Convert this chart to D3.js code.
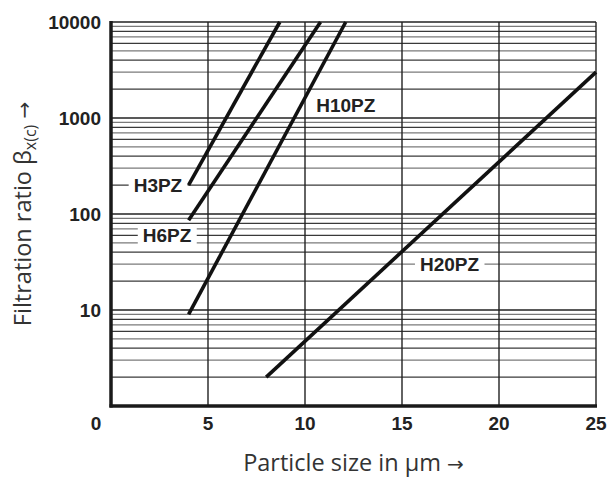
<!DOCTYPE html>
<html><head><meta charset="utf-8">
<script src="https://cdn.jsdelivr.net/npm/d3@7"></script>
<style>body{margin:0;background:#fff}svg{display:block}</style>
</head><body>
<svg id="c" width="614" height="479"></svg>
<script>
// Data
const seriesNames = ["H3PZ", "H6PZ", "H10PZ", "H20PZ"];
const seriesX = [[4, 8.7], [4, 10.8], [4, 12.1], [8, 25]];
const seriesY = [[200, 10000], [86, 10000], [9, 10000], [2, 3000]];
const labelX = [2.42, 2.89, 12.1, 17.45];
const labelY = [200, 60, 1370, 30];
const xTicks = [0, 5, 10, 15, 20, 25];
const yTicks = [10, 100, 1000, 10000];
const xTitle = "Particle size in µm";

const svg = d3.select("#c");
const m = {l:111, r:18, t:22, b:73};
const W = 614, H = 479;
const x = d3.scaleLinear().domain([0,25]).range([m.l, W-m.r]);
const y = d3.scaleLog().domain([1,10000]).range([H-m.b, m.t]);

// minor gridlines
const minors = [];
for (let d=1; d<10000; d*=10) for (let k=2; k<=9; k++) minors.push(d*k);
const g = svg.append("g");
g.selectAll("line.mn").data(minors).enter().append("line")
  .attr("x1", x(0)).attr("x2", x(25))
  .attr("y1", d=>y(d)).attr("y2", d=>y(d))
  .attr("stroke", (d,i)=> (i%2 ? "#7a7a7a" : "#3a3a3a")).attr("stroke-width", 1.2);
g.selectAll("line.mj").data(yTicks).enter().append("line")
  .attr("x1", x(0)).attr("x2", x(25))
  .attr("y1", d=>y(d)).attr("y2", d=>y(d))
  .attr("stroke", "#222").attr("stroke-width", 1.4);
g.selectAll("line.vx").data(xTicks.slice(1)).enter().append("line")
  .attr("x1", d=>x(d)).attr("x2", d=>x(d))
  .attr("y1", y(1)).attr("y2", y(10000))
  .attr("stroke", "#222").attr("stroke-width", 1.4);

// labels with white backgrounds
const lf = "'Liberation Sans', Arial, sans-serif";
const lab = svg.append("g");
seriesNames.forEach((n,i)=>{
  const t = lab.append("text").text(n)
    .attr("x", x(labelX[i])).attr("y", y(labelY[i]))
    .attr("dy", "0.36em").attr("text-anchor","middle")
    .attr("font-family", lf).attr("font-weight","bold").attr("font-size", 19)
    .attr("fill", "#222");
  const bb = t.node().getBBox();
  lab.insert("rect", "text").attr("x", bb.x-5).attr("y", bb.y+1).attr("width", bb.width+10).attr("height", bb.height-2).attr("fill", "#fff");
});

// series
svg.append("g").selectAll("line.s").data(seriesNames).enter().append("line")
  .attr("x1",(d,i)=>x(seriesX[i][0])).attr("y1",(d,i)=>y(seriesY[i][0]))
  .attr("x2",(d,i)=>x(seriesX[i][1])).attr("y2",(d,i)=>y(seriesY[i][1]))
  .attr("stroke","#111").attr("stroke-width",3.6);

// axes lines
svg.append("line").attr("x1", x(0)).attr("x2", x(0)).attr("y1", y(10000)-1).attr("y2", y(1)+1.5).attr("stroke","#1a1a1a").attr("stroke-width",3.5);
svg.append("line").attr("x1", x(0)-1.5).attr("x2", x(25)+1).attr("y1", y(1)).attr("y2", y(1)).attr("stroke","#1a1a1a").attr("stroke-width",3.5);

// tick labels
svg.append("g").selectAll("text").data(xTicks).enter().append("text")
  .attr("x", d=>x(d) - (d===0?15:0)).attr("y", y(1)+24)
  .attr("text-anchor","middle").attr("font-family", lf).attr("font-weight","bold")
  .attr("font-size",19).attr("fill","#222").text(d=>d);
svg.append("g").selectAll("text").data(yTicks).enter().append("text")
  .attr("x", x(0)-10).attr("y", d=>y(d)).attr("dy","0.36em")
  .attr("text-anchor","end").attr("font-family", lf).attr("font-weight","bold")
  .attr("font-size",19).attr("fill","#222").text(d=>d);

// titles
const tf = "'Open Sans', 'Noto Sans', sans-serif";
const xt = svg.append("text").attr("x", (x(0)+x(25))/2).attr("y", 471).attr("text-anchor","middle")
  .attr("font-family", tf).attr("font-size", 23.5).attr("fill","#333");
xt.append("tspan").text(xTitle + " ");
xt.append("tspan").attr("font-family","'DejaVu Sans', sans-serif").attr("font-size", 20).text("→");
const yt = svg.append("text").attr("transform", `translate(31,${(y(1)+y(10000))/2}) rotate(-90)`)
  .attr("text-anchor","middle").attr("font-family", tf).attr("font-size", 23.5).attr("fill","#333");
yt.append("tspan").text("Filtration ratio β");
yt.append("tspan").attr("font-size", 16).attr("dy", 5).text("x(c)");
yt.append("tspan").attr("dy", -5).text(" ");
yt.append("tspan").attr("font-family","'DejaVu Sans', sans-serif").attr("font-size", 20).text("→");
</script>
</body></html>
